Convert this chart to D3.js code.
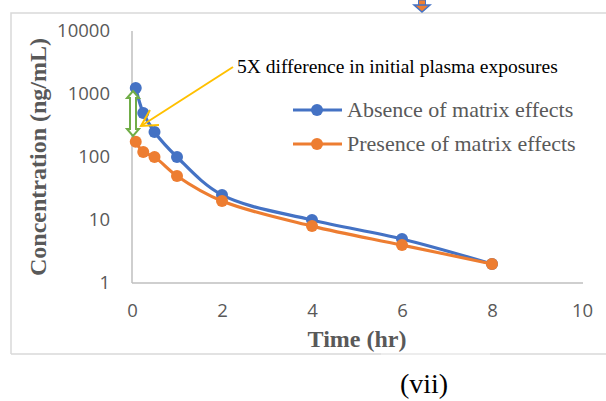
<!DOCTYPE html>
<html><head><meta charset="utf-8">
<script src="https://cdn.jsdelivr.net/npm/d3@7"></script>
<style>body{margin:0;background:#fff}svg{display:block}</style>
</head><body>
<svg id="c" width="606" height="401"></svg>
<script>
const times = [0.083, 0.25, 0.5, 1, 2, 4, 6, 8];
const absence = [1250, 500, 250, 100, 25, 10, 5, 2];
const presence = [175, 120, 100, 50, 20, 8, 4, 2];
const seriesNames = ["Absence of matrix effects", "Presence of matrix effects"];
const colors = ["#4472C4", "#ED7D31"];
const xTicks = [0, 2, 4, 6, 8, 10];
const yTicks = [1, 10, 100, 1000, 10000];

const svg = d3.select("#c");
const x = d3.scaleLinear().domain([0, 10]).range([132, 582]);
const y = d3.scaleLog().domain([1, 10000]).range([283, 31]);

// outer frame
svg.append("path").attr("d","M11,354 V13 H606").attr("fill","none").attr("stroke","#d9d9d9").attr("stroke-width",1.5);
svg.append("line").attr("x1",11).attr("x2",606).attr("y1",354).attr("y2",354).attr("stroke","#d9d9d9").attr("stroke-width",1.5);
svg.append("line").attr("x1",381).attr("x2",490).attr("y1",354).attr("y2",354).attr("stroke","#f0f0f0").attr("stroke-width",1.6);

// top down arrow (partially visible)
svg.append("rect").attr("x",418.5).attr("y",0).attr("width",7).attr("height",6).attr("fill","#ED7D31").attr("stroke","#4472C4").attr("stroke-width",1);
svg.append("path").attr("d","M414,5 H430 L422,12 Z").attr("fill","#ED7D31").attr("stroke","#4472C4").attr("stroke-width",1.5);

// axes
const gx = svg.append("g").attr("transform","translate(0,283)")
  .call(d3.axisBottom(x).tickValues(xTicks).tickSize(0).tickPadding(21));
const gy = svg.append("g").attr("transform","translate(132,0)")
  .call(d3.axisLeft(y).tickValues(yTicks).tickFormat(d3.format("d")).tickSize(0).tickPadding(22));
[gx, gy].forEach(g => {
  g.select(".domain").attr("stroke","#bfbfbf").attr("stroke-width",1.5);
  g.selectAll("text").attr("fill","#595959").style("font-family","'Open Sans', sans-serif").style("font-size","18.5px");
});
gx.select(".domain").attr("d","M132,0H583");
gy.select(".domain").attr("d","M0,31V283");

// series
const line = d3.line().x(d => x(d[0])).y(d => y(d[1])).curve(d3.curveCatmullRom.alpha(0.5));
[absence, presence].forEach((vals, i) => {
  const pts = times.map((t, j) => [t, vals[j]]);
  svg.append("path").attr("d", line(pts)).attr("fill","none").attr("stroke",colors[i]).attr("stroke-width",3.2);
  svg.append("g").selectAll("circle").data(pts).join("circle")
    .attr("cx", d => x(d[0])).attr("cy", d => y(d[1])).attr("r", 6).attr("fill", colors[i]);
});

// green double arrow
svg.append("path")
  .attr("d","M133,91 L139,98 L136,98 L136,129 L139,129 L133,136 L127,129 L130,129 L130,98 L127,98 Z")
  .attr("fill","#fff").attr("stroke","#70AD47").attr("stroke-width",2);

// yellow arrow
svg.append("path").attr("d","M233,67 L141,126").attr("stroke","#FFC000").attr("stroke-width",2).attr("fill","none");
svg.append("path").attr("d","M150,110 L141,126 L159,125").attr("stroke","#FFC000").attr("stroke-width",2).attr("fill","none");

// annotation text
svg.append("text").attr("x",237).attr("y",73).text("5X difference in initial plasma exposures")
  .style("font-family","'Liberation Serif','Times New Roman',serif").style("font-size","19.5px").attr("fill","#000");

// legend
seriesNames.forEach((n, i) => {
  const ly = 110 + i * 34;
  svg.append("line").attr("x1",293).attr("x2",342).attr("y1",ly).attr("y2",ly).attr("stroke",colors[i]).attr("stroke-width",3.2);
  svg.append("circle").attr("cx",317).attr("cy",ly).attr("r",6).attr("fill",colors[i]);
  svg.append("text").attr("x",347).attr("y",ly + 7).text(n)
    .style("font-family","'Liberation Serif','Times New Roman',serif").style("font-size","22px").attr("fill","#595959");
});

// axis titles
svg.append("text").attr("x",357).attr("y",347).attr("text-anchor","middle").text("Time (hr)")
  .style("font-family","'Liberation Serif','Times New Roman',serif").style("font-size","24px").style("font-weight","bold").attr("fill","#595959");
svg.append("text").attr("transform","translate(46,157) rotate(-90)").attr("text-anchor","middle").text("Concentration (ng/mL)")
  .style("font-family","'Liberation Serif','Times New Roman',serif").style("font-size","24px").style("font-weight","bold").attr("fill","#595959");

svg.append("text").attr("x",424).attr("y",393).attr("text-anchor","middle").text("(vii)")
  .style("font-family","'Liberation Serif','Times New Roman',serif").style("font-size","28px").attr("fill","#000");
</script>
</body></html>
